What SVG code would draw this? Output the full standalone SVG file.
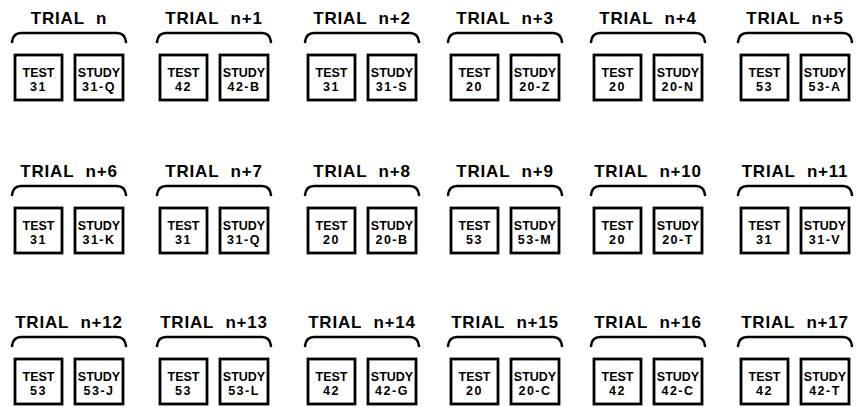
<svg xmlns="http://www.w3.org/2000/svg" width="857" height="413" viewBox="0 0 857 413">
<defs>
<style>
.t{font-family:"Liberation Sans",Arial,sans-serif;font-weight:bold;font-size:17px;letter-spacing:0.8px;word-spacing:6px;text-anchor:middle;fill:#000}
.b{fill:none;stroke:#000;stroke-width:2.6;stroke-linecap:round;stroke-linejoin:round}
.box{fill:#fff;stroke:#000;stroke-width:2.8}
.l{font-family:"Liberation Sans",Arial,sans-serif;font-weight:bold;font-size:12.5px;text-anchor:middle;fill:#000}
.s{letter-spacing:1.5px}
</style>
<path id="brace" d="M-57,42 Q-56,33 -48,33 L48,33 Q56,33 57,42"/>
</defs>
<rect width="857" height="413" fill="#fff"/>
<g id="connectors"></g>

<g id="trial-n" transform="translate(69,0)">
<text class="t" x="0" y="24">TRIAL n</text><use href="#brace" class="b"/>
<g id="test-n"><rect class="box" x="-54" y="55" width="47" height="45"/><text class="l" x="-30.5" y="77">TEST</text><text class="l s" x="-30.5" y="91">31</text></g>
<g id="study-n"><rect class="box" x="6" y="55" width="48" height="45"/><text class="l" x="30" y="77">STUDY</text><text class="l s" x="30" y="91">31-Q</text></g>
</g>
<g id="trial-n1" transform="translate(214,0)">
<text class="t" x="0" y="24">TRIAL n+1</text><use href="#brace" class="b"/>
<g id="test-n1"><rect class="box" x="-54" y="55" width="47" height="45"/><text class="l" x="-30.5" y="77">TEST</text><text class="l s" x="-30.5" y="91">42</text></g>
<g id="study-n1"><rect class="box" x="6" y="55" width="48" height="45"/><text class="l" x="30" y="77">STUDY</text><text class="l s" x="30" y="91">42-B</text></g>
</g>
<g id="trial-n2" transform="translate(362,0)">
<text class="t" x="0" y="24">TRIAL n+2</text><use href="#brace" class="b"/>
<g id="test-n2"><rect class="box" x="-54" y="55" width="47" height="45"/><text class="l" x="-30.5" y="77">TEST</text><text class="l s" x="-30.5" y="91">31</text></g>
<g id="study-n2"><rect class="box" x="6" y="55" width="48" height="45"/><text class="l" x="30" y="77">STUDY</text><text class="l s" x="30" y="91">31-S</text></g>
</g>
<g id="trial-n3" transform="translate(505,0)">
<text class="t" x="0" y="24">TRIAL n+3</text><use href="#brace" class="b"/>
<g id="test-n3"><rect class="box" x="-54" y="55" width="47" height="45"/><text class="l" x="-30.5" y="77">TEST</text><text class="l s" x="-30.5" y="91">20</text></g>
<g id="study-n3"><rect class="box" x="6" y="55" width="48" height="45"/><text class="l" x="30" y="77">STUDY</text><text class="l s" x="30" y="91">20-Z</text></g>
</g>
<g id="trial-n4" transform="translate(648,0)">
<text class="t" x="0" y="24">TRIAL n+4</text><use href="#brace" class="b"/>
<g id="test-n4"><rect class="box" x="-54" y="55" width="47" height="45"/><text class="l" x="-30.5" y="77">TEST</text><text class="l s" x="-30.5" y="91">20</text></g>
<g id="study-n4"><rect class="box" x="6" y="55" width="48" height="45"/><text class="l" x="30" y="77">STUDY</text><text class="l s" x="30" y="91">20-N</text></g>
</g>
<g id="trial-n5" transform="translate(795,0)">
<text class="t" x="0" y="24">TRIAL n+5</text><use href="#brace" class="b"/>
<g id="test-n5"><rect class="box" x="-54" y="55" width="47" height="45"/><text class="l" x="-30.5" y="77">TEST</text><text class="l s" x="-30.5" y="91">53</text></g>
<g id="study-n5"><rect class="box" x="6" y="55" width="48" height="45"/><text class="l" x="30" y="77">STUDY</text><text class="l s" x="30" y="91">53-A</text></g>
</g>

<g id="trial-n6" transform="translate(69,153)">
<text class="t" x="0" y="24">TRIAL n+6</text><use href="#brace" class="b"/>
<g id="test-n6"><rect class="box" x="-54" y="55" width="47" height="45"/><text class="l" x="-30.5" y="77">TEST</text><text class="l s" x="-30.5" y="91">31</text></g>
<g id="study-n6"><rect class="box" x="6" y="55" width="48" height="45"/><text class="l" x="30" y="77">STUDY</text><text class="l s" x="30" y="91">31-K</text></g>
</g>
<g id="trial-n7" transform="translate(214,153)">
<text class="t" x="0" y="24">TRIAL n+7</text><use href="#brace" class="b"/>
<g id="test-n7"><rect class="box" x="-54" y="55" width="47" height="45"/><text class="l" x="-30.5" y="77">TEST</text><text class="l s" x="-30.5" y="91">31</text></g>
<g id="study-n7"><rect class="box" x="6" y="55" width="48" height="45"/><text class="l" x="30" y="77">STUDY</text><text class="l s" x="30" y="91">31-Q</text></g>
</g>
<g id="trial-n8" transform="translate(362,153)">
<text class="t" x="0" y="24">TRIAL n+8</text><use href="#brace" class="b"/>
<g id="test-n8"><rect class="box" x="-54" y="55" width="47" height="45"/><text class="l" x="-30.5" y="77">TEST</text><text class="l s" x="-30.5" y="91">20</text></g>
<g id="study-n8"><rect class="box" x="6" y="55" width="48" height="45"/><text class="l" x="30" y="77">STUDY</text><text class="l s" x="30" y="91">20-B</text></g>
</g>
<g id="trial-n9" transform="translate(505,153)">
<text class="t" x="0" y="24">TRIAL n+9</text><use href="#brace" class="b"/>
<g id="test-n9"><rect class="box" x="-54" y="55" width="47" height="45"/><text class="l" x="-30.5" y="77">TEST</text><text class="l s" x="-30.5" y="91">53</text></g>
<g id="study-n9"><rect class="box" x="6" y="55" width="48" height="45"/><text class="l" x="30" y="77">STUDY</text><text class="l s" x="30" y="91">53-M</text></g>
</g>
<g id="trial-n10" transform="translate(648,153)">
<text class="t" x="0" y="24">TRIAL n+10</text><use href="#brace" class="b"/>
<g id="test-n10"><rect class="box" x="-54" y="55" width="47" height="45"/><text class="l" x="-30.5" y="77">TEST</text><text class="l s" x="-30.5" y="91">20</text></g>
<g id="study-n10"><rect class="box" x="6" y="55" width="48" height="45"/><text class="l" x="30" y="77">STUDY</text><text class="l s" x="30" y="91">20-T</text></g>
</g>
<g id="trial-n11" transform="translate(795,153)">
<text class="t" x="0" y="24">TRIAL n+11</text><use href="#brace" class="b"/>
<g id="test-n11"><rect class="box" x="-54" y="55" width="47" height="45"/><text class="l" x="-30.5" y="77">TEST</text><text class="l s" x="-30.5" y="91">31</text></g>
<g id="study-n11"><rect class="box" x="6" y="55" width="48" height="45"/><text class="l" x="30" y="77">STUDY</text><text class="l s" x="30" y="91">31-V</text></g>
</g>

<g id="trial-n12" transform="translate(69,304)">
<text class="t" x="0" y="24">TRIAL n+12</text><use href="#brace" class="b"/>
<g id="test-n12"><rect class="box" x="-54" y="55" width="47" height="45"/><text class="l" x="-30.5" y="77">TEST</text><text class="l s" x="-30.5" y="91">53</text></g>
<g id="study-n12"><rect class="box" x="6" y="55" width="48" height="45"/><text class="l" x="30" y="77">STUDY</text><text class="l s" x="30" y="91">53-J</text></g>
</g>
<g id="trial-n13" transform="translate(214,304)">
<text class="t" x="0" y="24">TRIAL n+13</text><use href="#brace" class="b"/>
<g id="test-n13"><rect class="box" x="-54" y="55" width="47" height="45"/><text class="l" x="-30.5" y="77">TEST</text><text class="l s" x="-30.5" y="91">53</text></g>
<g id="study-n13"><rect class="box" x="6" y="55" width="48" height="45"/><text class="l" x="30" y="77">STUDY</text><text class="l s" x="30" y="91">53-L</text></g>
</g>
<g id="trial-n14" transform="translate(362,304)">
<text class="t" x="0" y="24">TRIAL n+14</text><use href="#brace" class="b"/>
<g id="test-n14"><rect class="box" x="-54" y="55" width="47" height="45"/><text class="l" x="-30.5" y="77">TEST</text><text class="l s" x="-30.5" y="91">42</text></g>
<g id="study-n14"><rect class="box" x="6" y="55" width="48" height="45"/><text class="l" x="30" y="77">STUDY</text><text class="l s" x="30" y="91">42-G</text></g>
</g>
<g id="trial-n15" transform="translate(505,304)">
<text class="t" x="0" y="24">TRIAL n+15</text><use href="#brace" class="b"/>
<g id="test-n15"><rect class="box" x="-54" y="55" width="47" height="45"/><text class="l" x="-30.5" y="77">TEST</text><text class="l s" x="-30.5" y="91">20</text></g>
<g id="study-n15"><rect class="box" x="6" y="55" width="48" height="45"/><text class="l" x="30" y="77">STUDY</text><text class="l s" x="30" y="91">20-C</text></g>
</g>
<g id="trial-n16" transform="translate(648,304)">
<text class="t" x="0" y="24">TRIAL n+16</text><use href="#brace" class="b"/>
<g id="test-n16"><rect class="box" x="-54" y="55" width="47" height="45"/><text class="l" x="-30.5" y="77">TEST</text><text class="l s" x="-30.5" y="91">42</text></g>
<g id="study-n16"><rect class="box" x="6" y="55" width="48" height="45"/><text class="l" x="30" y="77">STUDY</text><text class="l s" x="30" y="91">42-C</text></g>
</g>
<g id="trial-n17" transform="translate(795,304)">
<text class="t" x="0" y="24">TRIAL n+17</text><use href="#brace" class="b"/>
<g id="test-n17"><rect class="box" x="-54" y="55" width="47" height="45"/><text class="l" x="-30.5" y="77">TEST</text><text class="l s" x="-30.5" y="91">42</text></g>
<g id="study-n17"><rect class="box" x="6" y="55" width="48" height="45"/><text class="l" x="30" y="77">STUDY</text><text class="l s" x="30" y="91">42-T</text></g>
</g>
</svg>
